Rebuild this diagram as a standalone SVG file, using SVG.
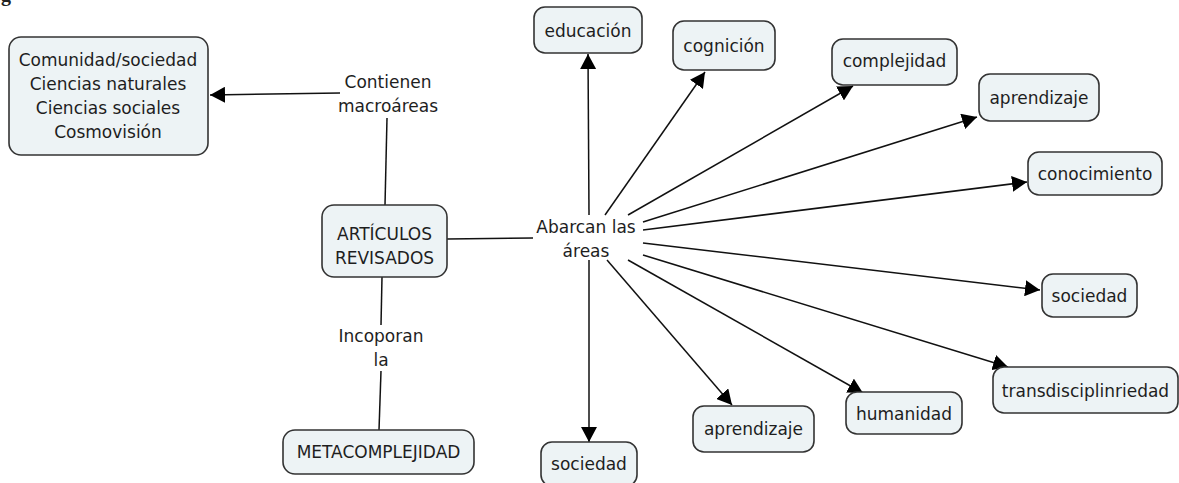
<svg xmlns="http://www.w3.org/2000/svg" width="1179" height="483" viewBox="0 0 1179 483">
<style>
.box{fill:#edf3f5;stroke:#333;stroke-width:1.6}
.t{font-family:"DejaVu Sans",Verdana,sans-serif;font-size:17px;fill:#1e1e1e;text-anchor:middle}
.c{stroke:#111;stroke-width:1.5;fill:none}
.a{marker-end:url(#ah)}
</style>
<defs>
<marker id="ah" markerUnits="userSpaceOnUse" markerWidth="16" markerHeight="16" refX="15" refY="8" orient="auto">
<path d="M0,0 L15,8 L0,16 z" fill="#000"/>
</marker>
</defs>
<rect width="1179" height="483" fill="#fff"/>
<text x="1" y="1" font-family="Liberation Serif,serif" font-weight="bold" font-size="20" fill="#222">g</text>
<g id="connectors">
<path class="c a" d="M340,93 L210,95"/>
<path class="c" d="M387,118 L385,205"/>
<path class="c" d="M447,239 L533,238"/>
<path class="c" d="M382,277 L381,325"/>
<path class="c" d="M381,371 L379,430"/>
<path class="c a" d="M589,215 L588,54"/>
<path class="c a" d="M605,215 L705,72"/>
<path class="c a" d="M628,215 L853,86"/>
<path class="c a" d="M643,222 L977,117"/>
<path class="c a" d="M643,230 L1027,182"/>
<path class="c a" d="M643,243 L1040,290"/>
<path class="c a" d="M643,255 L1008,367"/>
<path class="c a" d="M628,260 L863,393"/>
<path class="c a" d="M607,260 L732,405"/>
<path class="c a" d="M589,260 L589,442"/>
</g>
<g id="n-comunidad">
<rect class="box" x="9" y="37" width="199" height="118" rx="12"/>
<text class="t" x="108" y="66">Comunidad/sociedad</text>
<text class="t" x="108" y="90">Ciencias naturales</text>
<text class="t" x="108" y="114">Ciencias sociales</text>
<text class="t" x="108" y="138">Cosmovisión</text>
</g>
<g id="l-contienen">
<text class="t" x="388" y="88">Contienen</text>
<text class="t" x="388" y="112">macroáreas</text>
</g>
<g id="n-articulos">
<rect class="box" x="322" y="205" width="125" height="72" rx="12"/>
<text class="t" x="384.5" y="240">ARTÍCULOS</text>
<text class="t" x="384.5" y="264">REVISADOS</text>
</g>
<g id="l-abarcan">
<text class="t" x="586" y="233">Abarcan las</text>
<text class="t" x="586" y="257">áreas</text>
</g>
<g id="l-incoporan">
<text class="t" x="381" y="342">Incoporan</text>
<text class="t" x="381" y="366">la</text>
</g>
<g id="n-meta">
<rect class="box" x="283" y="430" width="191" height="44" rx="12"/>
<text class="t" x="378.5" y="458">METACOMPLEJIDAD</text>
</g>
<g id="n-educacion">
<rect class="box" x="534" y="7" width="108" height="46" rx="11"/>
<text class="t" x="588" y="37">educación</text>
</g>
<g id="n-cognicion">
<rect class="box" x="673" y="21" width="102" height="49" rx="11"/>
<text class="t" x="724" y="52">cognición</text>
</g>
<g id="n-complejidad">
<rect class="box" x="832" y="39" width="125" height="46" rx="11"/>
<text class="t" x="894.5" y="67">complejidad</text>
</g>
<g id="n-aprendizaje1">
<rect class="box" x="979" y="74" width="120" height="47" rx="11"/>
<text class="t" x="1039" y="104">aprendizaje</text>
</g>
<g id="n-conocimiento">
<rect class="box" x="1028" y="152" width="134" height="43" rx="11"/>
<text class="t" x="1095" y="180">conocimiento</text>
</g>
<g id="n-sociedad1">
<rect class="box" x="1042" y="274" width="95" height="43" rx="11"/>
<text class="t" x="1089.5" y="302">sociedad</text>
</g>
<g id="n-transdisc">
<rect class="box" x="993" y="367" width="185" height="46" rx="11"/>
<text class="t" x="1085.5" y="397">transdisciplinriedad</text>
</g>
<g id="n-humanidad">
<rect class="box" x="846" y="392" width="116" height="42" rx="11"/>
<text class="t" x="904" y="420">humanidad</text>
</g>
<g id="n-aprendizaje2">
<rect class="box" x="693" y="406" width="121" height="46" rx="11"/>
<text class="t" x="753.5" y="435">aprendizaje</text>
</g>
<g id="n-sociedad2">
<rect class="box" x="541" y="442" width="96" height="44" rx="11"/>
<text class="t" x="589" y="470">sociedad</text>
</g>
</svg>
